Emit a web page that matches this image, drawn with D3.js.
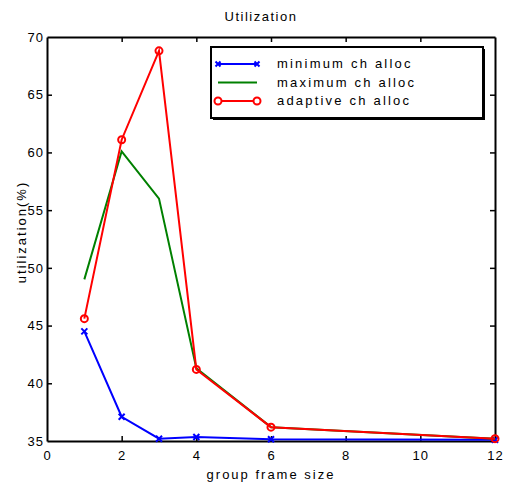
<!DOCTYPE html>
<html>
<head>
<meta charset="utf-8">
<script src="https://cdn.jsdelivr.net/npm/d3@7"></script>
<style>
  body { margin: 0; background: #fff; }
  text { font-family: "Liberation Sans", Arial, sans-serif; fill: #000; }
</style>
</head>
<body>
<div id="chart"></div>
<script>
var width = 505;
var height = 484;

// data
var frameSizes = [1, 2, 3, 4, 6, 12];
var minAlloc = [44.5, 37.1, 35.2, 35.35, 35.15, 35.1];
var maxAlloc = [49.0, 60.1, 56.0, 41.3, 36.2, 35.2];
var adaptiveAlloc = [45.6, 61.1, 68.8, 41.2, 36.2, 35.2];
var xTicks = [0, 2, 4, 6, 8, 10, 12];
var yTicks = [35, 40, 45, 50, 55, 60, 65, 70];
var seriesNames = ["minimum ch alloc", "maximum ch alloc", "adaptive ch alloc"];

// plot frame (named so they don't clash with window.top)
var plotLeft = 47, plotRight = 495, plotTop = 37, plotBottom = 441;

var x = d3.scaleLinear().domain([0, 12]).range([plotLeft, plotRight]);
var y = d3.scaleLinear().domain([35, 70]).range([plotBottom, plotTop]);

var svg = d3.select("#chart")
    .append("svg")
    .attr("width", width)
    .attr("height", height);

// axes, ticks pointing inward like the original
var tickLen = 5;
svg.append("g")
    .attr("transform", "translate(0," + plotBottom + ")")
    .call(d3.axisBottom(x).tickValues(xTicks).tickSizeInner(-tickLen).tickSizeOuter(0).tickPadding(10))
    .call(styleAxis);
svg.append("g")
    .attr("transform", "translate(0," + plotTop + ")")
    .call(d3.axisTop(x).tickValues(xTicks).tickSizeInner(-tickLen).tickSizeOuter(0).tickFormat(""))
    .call(styleAxis);
svg.append("g")
    .attr("transform", "translate(" + plotLeft + ",0)")
    .call(d3.axisLeft(y).tickValues(yTicks).tickSizeInner(-tickLen).tickSizeOuter(0).tickPadding(3))
    .call(styleAxis);
svg.append("g")
    .attr("transform", "translate(" + plotRight + ",0)")
    .call(d3.axisRight(y).tickValues(yTicks).tickSizeInner(-tickLen).tickSizeOuter(0).tickFormat(""))
    .call(styleAxis);

function styleAxis(g) {
    g.select(".domain").attr("stroke", "#000").attr("stroke-width", 2);
    g.selectAll(".tick line").attr("stroke", "#000").attr("stroke-width", 1.5);
    g.selectAll(".tick text")
        .attr("font-size", 13)
        .attr("font-family", "Liberation Sans, Arial, sans-serif")
        .attr("letter-spacing", 1);
}

// remove the tick lines that sit on the frame corners
svg.selectAll(".tick").filter(function(d){ return d === 0 || d === 12 || d === 35 || d === 70; })
    .select("line").remove();

var line = d3.line()
    .x(function(d){ return x(d[0]); })
    .y(function(d){ return y(d[1]); });

function pairs(vals) {
    return frameSizes.map(function(f, i){ return [f, vals[i]]; });
}

// minimum
svg.append("path")
    .datum(pairs(minAlloc))
    .attr("fill", "none")
    .attr("stroke", "#0000ff")
    .attr("stroke-width", 2)
    .attr("d", line);
svg.selectAll(".xmark")
    .data(pairs(minAlloc))
    .enter().append("path")
    .attr("class", "xmark")
    .attr("transform", function(d){ return "translate(" + x(d[0]) + "," + y(d[1]) + ")"; })
    .attr("d", "M-3,-3L3,3M-3,3L3,-3")
    .attr("stroke", "#0000ff")
    .attr("stroke-width", 2);

// maximum
svg.append("path")
    .datum(pairs(maxAlloc))
    .attr("fill", "none")
    .attr("stroke", "#008000")
    .attr("stroke-width", 2)
    .attr("d", line);

// adaptive
svg.append("path")
    .datum(pairs(adaptiveAlloc))
    .attr("fill", "none")
    .attr("stroke", "#ff0000")
    .attr("stroke-width", 2)
    .attr("d", line);
svg.selectAll(".omark")
    .data(pairs(adaptiveAlloc))
    .enter().append("circle")
    .attr("class", "omark")
    .attr("cx", function(d){ return x(d[0]); })
    .attr("cy", function(d){ return y(d[1]); })
    .attr("r", 3.5)
    .attr("fill", "none")
    .attr("stroke", "#ff0000")
    .attr("stroke-width", 2);

// legend
var legend = svg.append("g").attr("transform", "translate(211,47)");
legend.append("rect")
    .attr("x", 2).attr("y", 2)
    .attr("width", 272).attr("height", 71)
    .attr("fill", "#000");
legend.append("rect")
    .attr("width", 272).attr("height", 71)
    .attr("fill", "#fff")
    .attr("stroke", "#000")
    .attr("stroke-width", 2);

var legColors = ["#0000ff", "#008000", "#ff0000"];
seriesNames.forEach(function(name, i) {
    var ly = 17 + i * 18.5;
    legend.append("line")
        .attr("x1", 7).attr("x2", 46)
        .attr("y1", ly).attr("y2", ly)
        .attr("stroke", legColors[i])
        .attr("stroke-width", 2);
    if (i === 0) {
        [7, 46].forEach(function(mx){
            legend.append("path")
                .attr("transform", "translate(" + mx + "," + ly + ")")
                .attr("d", "M-2.5,-2.5L2.5,2.5M-2.5,2.5L2.5,-2.5")
                .attr("stroke", legColors[i]).attr("stroke-width", 2);
        });
    }
    if (i === 2) {
        [7, 46].forEach(function(mx){
            legend.append("circle")
                .attr("cx", mx).attr("cy", ly).attr("r", 3.5)
                .attr("fill", "#fff")
                .attr("stroke", legColors[i]).attr("stroke-width", 2);
        });
    }
    legend.append("text")
        .attr("x", 66).attr("y", ly + 4)
        .attr("font-size", 13)
        .attr("letter-spacing", 2.2)
        .text(name);
});

// titles
svg.append("text")
    .attr("x", 261).attr("y", 21)
    .attr("text-anchor", "middle")
    .attr("font-size", 13)
    .attr("letter-spacing", 1.5)
    .text("Utilization");

svg.append("text")
    .attr("x", 271).attr("y", 479)
    .attr("text-anchor", "middle")
    .attr("font-size", 13)
    .attr("letter-spacing", 2)
    .text("group frame size");

svg.append("text")
    .attr("transform", "translate(26,232) rotate(-90)")
    .attr("text-anchor", "middle")
    .attr("font-size", 13)
    .attr("letter-spacing", 2)
    .text("utilization(%)");
</script>
</body>
</html>
